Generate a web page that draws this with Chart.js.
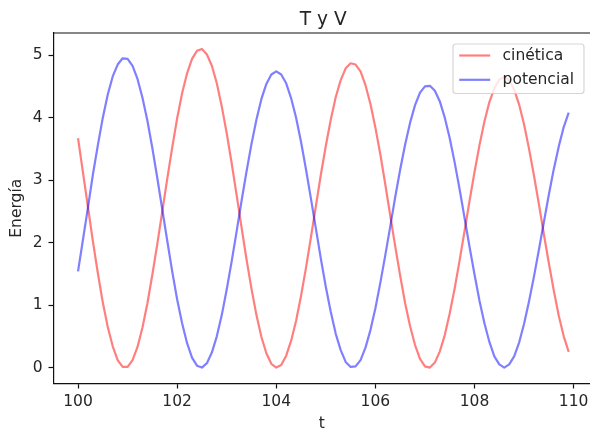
<!DOCTYPE html>
<html><head><meta charset="utf-8">
<script src="https://cdn.jsdelivr.net/npm/chart.js@4"></script>
<style>html,body{margin:0;padding:0;background:#fff}#wrap{width:590px;height:432px;position:relative}</style>
</head><body><div id="wrap"><canvas id="c" width="590" height="432"></canvas></div>
<script>
const tValues = [100.0,100.1,100.2,100.3,100.4,100.5,100.6,100.7,100.8,100.9,
101.0,101.1,101.2,101.3,101.4,101.5,101.6,101.7,101.8,101.9,
102.0,102.1,102.2,102.3,102.4,102.5,102.6,102.7,102.8,102.9,
103.0,103.1,103.2,103.3,103.4,103.5,103.6,103.7,103.8,103.9,
104.0,104.1,104.2,104.3,104.4,104.5,104.6,104.7,104.8,104.9,
105.0,105.1,105.2,105.3,105.4,105.5,105.6,105.7,105.8,105.9,
106.0,106.1,106.2,106.3,106.4,106.5,106.6,106.7,106.8,106.9,
107.0,107.1,107.2,107.3,107.4,107.5,107.6,107.7,107.8,107.9,
108.0,108.1,108.2,108.3,108.4,108.5,108.6,108.7,108.8,108.9,
109.0,109.1,109.2,109.3,109.4,109.5,109.6,109.7,109.8,109.9];
const cinetica = [3.67,3.12,2.57,2.02,1.51,1.04,0.65,0.34,0.12,0.01,
0.01,0.12,0.33,0.64,1.03,1.49,1.98,2.50,3.02,3.52,
3.99,4.39,4.71,4.94,5.07,5.10,5.01,4.83,4.55,4.18,
3.75,3.27,2.76,2.24,1.73,1.26,0.84,0.49,0.23,0.06,
0.00,0.04,0.19,0.43,0.75,1.15,1.60,2.09,2.59,3.09,
3.55,3.97,4.33,4.60,4.79,4.87,4.85,4.74,4.52,4.22,
3.84,3.41,2.93,2.43,1.94,1.47,1.03,0.66,0.36,0.14,
0.02,0.00,0.08,0.26,0.52,0.87,1.27,1.72,2.19,2.67,
3.13,3.56,3.94,4.25,4.47,4.61,4.65,4.60,4.45,4.21,
3.89,3.50,3.07,2.61,2.13,1.67,1.23,0.83,0.50,0.25];
const potencial = [1.54,2.05,2.56,3.09,3.56,4.00,4.37,4.66,4.85,4.95,
4.94,4.83,4.62,4.32,3.95,3.51,3.03,2.53,2.03,1.54,
1.09,0.71,0.39,0.16,0.03,0.00,0.07,0.24,0.50,0.84,
1.25,1.70,2.18,2.67,3.14,3.58,3.97,4.30,4.54,4.69,
4.74,4.69,4.55,4.31,4.00,3.61,3.17,2.70,2.22,1.74,
1.29,0.89,0.54,0.28,0.09,0.01,0.02,0.12,0.32,0.60,
0.95,1.36,1.80,2.26,2.73,3.17,3.57,3.92,4.20,4.40,
4.50,4.51,4.43,4.26,4.00,3.67,3.28,2.85,2.39,1.93,
1.49,1.07,0.71,0.41,0.18,0.05,0.00,0.05,0.18,0.40,
0.70,1.06,1.46,1.89,2.33,2.77,3.18,3.54,3.85,4.08];
const xTicks = [100,102,104,106,108,110];
const yTicks = [0,1,2,3,4,5];
const seriesNames = ['cinética','potencial'];
const chartTitle = 'T y V';
const xLabel = 't';
const yLabel = 'Energía';

const FAMILY = '"DejaVu Sans", sans-serif';
const TXT = '#262626';
const SPINE = '#111';
const XMIN = 99.505, XMAX = 110.33, YMIN = -0.255, YMAX = 5.355;

const framePlugin = {
  id: 'mplFrame',
  afterDraw(chart) {
    const ctx = chart.ctx;
    const ca = chart.chartArea;
    ctx.save();
    // top spine
    ctx.beginPath();
    ctx.moveTo(ca.left - 0.6, ca.top);
    ctx.lineTo(ca.right, ca.top);
    ctx.strokeStyle = SPINE;
    ctx.lineWidth = 1.2;
    ctx.stroke();
    // title centred on the full (uncropped) axes
    ctx.font = '18.6px ' + FAMILY;
    ctx.fillStyle = TXT;
    ctx.textAlign = 'center';
    ctx.textBaseline = 'alphabetic';
    ctx.fillText(chartTitle, (ca.left + ca.right + 3) / 2, 25);
    // legend
    const w = 131, h = 49.5;
    const x0 = ca.right - 6 - w, y0 = ca.top + 11;
    ctx.beginPath();
    ctx.roundRect(x0, y0, w, h, 3);
    ctx.fillStyle = 'rgba(255,255,255,0.8)';
    ctx.fill();
    ctx.strokeStyle = 'rgba(204,204,204,0.8)';
    ctx.lineWidth = 1.2;
    ctx.stroke();
    ctx.font = '15.5px ' + FAMILY;
    ctx.textBaseline = 'middle';
    ctx.textAlign = 'left';
    chart.data.datasets.forEach((ds, i) => {
      const y = y0 + 11.5 + i * 24.3;
      ctx.beginPath();
      ctx.moveTo(x0 + 6.2, y);
      ctx.lineTo(x0 + 37.2, y);
      ctx.strokeStyle = ds.borderColor;
      ctx.lineWidth = ds.borderWidth;
      ctx.stroke();
      ctx.fillStyle = TXT;
      ctx.fillText(ds.label, x0 + 49.6, y + 0.5);
    });
    ctx.restore();
  }
};

const mkTicks = (arr) => (s) => { s.ticks = arr.map(v => ({value: v})); };

new Chart(document.getElementById('c'), {
  type: 'line',
  data: {
    datasets: [
      { label: seriesNames[0], data: tValues.map((x, i) => ({x, y: cinetica[i]})),
        borderColor: 'rgba(255,0,0,0.5)', borderWidth: 2.2, pointRadius: 0, tension: 0, fill: false, order: 1, borderJoinStyle: 'round' },
      { label: seriesNames[1], data: tValues.map((x, i) => ({x, y: potencial[i]})),
        borderColor: 'rgba(0,0,255,0.5)', borderWidth: 2.2, pointRadius: 0, tension: 0, fill: false, order: 0, borderJoinStyle: 'round' }
    ]
  },
  options: {
    responsive: false,
    animation: false,
    devicePixelRatio: 1,
    layout: { padding: { top: 33, left: 0, right: 0, bottom: 0 }, autoPadding: false },
    plugins: { legend: { display: false }, title: { display: false }, tooltip: { enabled: false } },
    scales: {
      x: {
        type: 'linear', position: 'bottom', min: XMIN, max: XMAX,
        afterBuildTicks: mkTicks(xTicks),
        afterFit: (s) => { s.height = 48.5; s.paddingLeft = 0; s.paddingRight = 0; },
        grid: { drawOnChartArea: false, drawTicks: true, tickLength: 5, tickWidth: 1.2, tickColor: SPINE },
        border: { display: true, color: SPINE, width: 1.2 },
        ticks: { font: { family: FAMILY, size: 15.5 }, color: TXT, padding: 4, maxRotation: 0, autoSkip: false },
        title: { display: true, text: xLabel, font: { family: FAMILY, size: 15.5 }, color: TXT, padding: { top: 0, bottom: -1 } }
      },
      y: {
        type: 'linear', position: 'left', min: YMIN, max: YMAX,
        afterBuildTicks: mkTicks(yTicks),
        afterFit: (s) => { s.width = 53.5; s.paddingTop = 0; s.paddingBottom = 0; },
        grid: { drawOnChartArea: false, drawTicks: true, tickLength: 5, tickWidth: 1.2, tickColor: SPINE },
        border: { display: true, color: SPINE, width: 1.2 },
        ticks: { font: { family: FAMILY, size: 15.5 }, color: TXT, padding: 6 },
        title: { display: true, text: yLabel, font: { family: FAMILY, size: 15.5 }, color: TXT, padding: { top: 8, bottom: 0 } }
      }
    }
  },
  plugins: [framePlugin]
});
</script>
</body></html>
